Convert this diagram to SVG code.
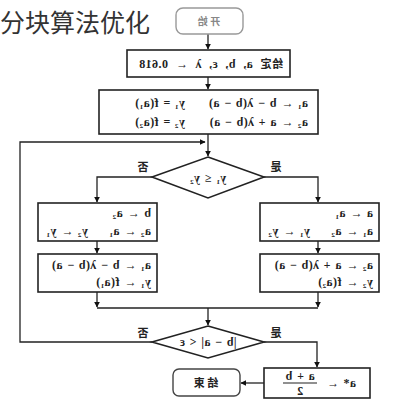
<svg xmlns="http://www.w3.org/2000/svg" width="418" height="400" viewBox="0 0 418 400">
<defs>
<marker id="ah" viewBox="0 0 10 10" refX="9" refY="5" markerWidth="6" markerHeight="6" orient="auto" markerUnits="userSpaceOnUse">
<path d="M0,0 L10,5 L0,10 z" fill="#111"/>
</marker>
<style>
.box{fill:#fff;stroke:#222;stroke-width:1.6}
.term{fill:#fff;stroke:#999;stroke-width:1.4}
.ln{fill:none;stroke:#222;stroke-width:1.3}
.t{font-family:"Liberation Serif","DejaVu Serif",serif;font-size:12px;font-weight:bold;fill:#222;letter-spacing:0.4px;word-spacing:1px}
.lb{font-family:"Noto Sans CJK SC",sans-serif;font-size:11px;font-weight:bold;fill:#222}
.title{font-family:"Noto Sans CJK SC",sans-serif;font-size:25px;fill:#333}
</style>
</defs>
<rect width="418" height="400" fill="#fff"/>
<text class="title" x="0" y="32">分块算法优化</text>

<g id="connectors">
<path class="ln" d="M208,34 V49" marker-end="url(#ah)"/>
<path class="ln" d="M208,77 V89" marker-end="url(#ah)"/>
<path class="ln" d="M208,134 V156" marker-end="url(#ah)"/>
<path class="ln" d="M152,342 H20 V142 H205" marker-end="url(#ah)"/>
<path class="ln" d="M152,177 H97 V202" marker-end="url(#ah)"/>
<path class="ln" d="M264,177 H318 V202" marker-end="url(#ah)"/>
<path class="ln" d="M97,241 V253" marker-end="url(#ah)"/>
<path class="ln" d="M318,241 V253" marker-end="url(#ah)"/>
<path class="ln" d="M97,292 V307" marker-end="url(#ah)"/>
<path class="ln" d="M318,292 V307" marker-end="url(#ah)"/>
<path class="ln" d="M97,308 H318"/>
<path class="ln" d="M208,308 V325" marker-end="url(#ah)"/>
<path class="ln" d="M264,342 H317 V367" marker-end="url(#ah)"/>
<path class="ln" d="M264,383 H241" marker-end="url(#ah)"/>
<text class="lb" text-anchor="middle" transform="translate(143,171) scale(-1,1)">否</text>
<text class="lb" text-anchor="middle" transform="translate(276,171) scale(-1,1)">是</text>
<text class="lb" text-anchor="middle" transform="translate(143,337) scale(-1,1)">否</text>
<text class="lb" text-anchor="middle" transform="translate(276,337) scale(-1,1)">是</text>
</g>

<g id="start">
<rect class="term" x="176" y="8" width="67" height="26" rx="7"/>
<text class="lb" style="fill:#888;font-size:10px" text-anchor="middle" transform="translate(209,25) scale(-1,1)">开 始</text>
</g>

<g id="init">
<rect class="box" x="127" y="50" width="163" height="27"/>
<text class="t" style="word-spacing:4px" transform="translate(283,68) scale(-1,1)"><tspan class="lb">给定</tspan> a, b, ε, λ ← 0.618</text>
</g>

<g id="compute">
<rect class="box" x="99" y="90" width="219" height="44"/>
<text class="t" transform="translate(308,107) scale(-1,1)">a₁ ← b − λ(b − a)</text>
<text class="t" transform="translate(185,107) scale(-1,1)">y₁ = f(a₁)</text>
<text class="t" transform="translate(308,126) scale(-1,1)">a₂ ← a + λ(b − a)</text>
<text class="t" transform="translate(185,126) scale(-1,1)">y₂ = f(a₂)</text>
</g>

<g id="cond1">
<polygon class="box" points="208,157 264,177 208,198 152,177"/>
<text class="t" text-anchor="middle" transform="translate(208,182) scale(-1,1)">y₁ ≤ y₂</text>
</g>

<g id="leftA">
<rect class="box" x="38" y="203" width="119" height="38"/>
<text class="t" transform="translate(151,217) scale(-1,1)">b ← a₂</text>
<text class="t" transform="translate(151,235) scale(-1,1)">a₂ ← a₁</text>
<text class="t" transform="translate(88,235) scale(-1,1)">y₂ ← y₁</text>
</g>

<g id="leftB">
<rect class="box" x="38" y="254" width="119" height="38"/>
<text class="t" transform="translate(151,269) scale(-1,1)">a₁ ← b − λ(b − a)</text>
<text class="t" transform="translate(151,286) scale(-1,1)">y₁ ← f(a₁)</text>
</g>

<g id="rightA">
<rect class="box" x="260" y="203" width="119" height="38"/>
<text class="t" transform="translate(373,217) scale(-1,1)">a ← a₁</text>
<text class="t" transform="translate(373,235) scale(-1,1)">a₁ ← a₂</text>
<text class="t" transform="translate(310,235) scale(-1,1)">y₁ ← y₂</text>
</g>

<g id="rightB">
<rect class="box" x="260" y="254" width="119" height="38"/>
<text class="t" transform="translate(373,269) scale(-1,1)">a₂ ← a + λ(b − a)</text>
<text class="t" transform="translate(373,286) scale(-1,1)">y₂ ← f(a₂)</text>
</g>

<g id="cond2">
<polygon class="box" points="208,326 264,342 208,358 152,342"/>
<text class="t" text-anchor="middle" transform="translate(208,346) scale(-1,1)">|b − a| &lt; ε</text>
</g>

<g id="result">
<rect class="box" x="264" y="368" width="106" height="30"/>
<text class="t" transform="translate(356,387) scale(-1,1)">a* ←</text>
<text class="t" text-anchor="middle" transform="translate(300,380) scale(-1,1)">a + b</text>
<line x1="283" y1="383" x2="317" y2="383" stroke="#222" stroke-width="1.2"/>
<text class="t" text-anchor="middle" transform="translate(300,395) scale(-1,1)">2</text>
</g>

<g id="end">
<rect class="term" x="173" y="369" width="67" height="27" rx="6" style="stroke:#444"/>
<text class="lb" text-anchor="middle" transform="translate(206,387) scale(-1,1)">结 束</text>
</g>
</svg>
